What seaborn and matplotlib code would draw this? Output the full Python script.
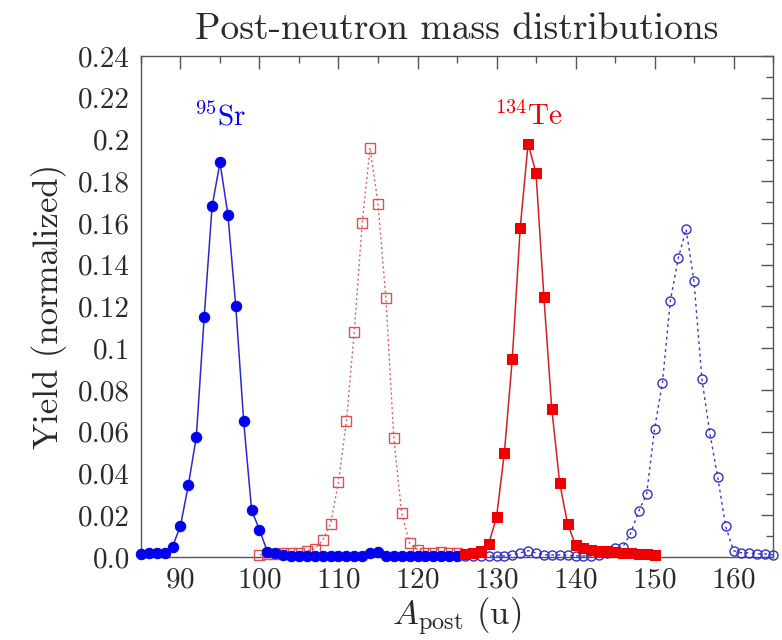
import numpy as np
import pandas as pd
import matplotlib
matplotlib.use("Agg")
import matplotlib.pyplot as plt
import seaborn as sns

# ---- data ----
sr_mass = list(range(85, 126))
sr_yield = [0.0015, 0.002, 0.002, 0.002, 0.005, 0.015, 0.0345, 0.0575, 0.115, 0.168,
            0.189, 0.164, 0.120, 0.065, 0.0225, 0.013, 0.0025, 0.002, 0.001, 0.0005,
            0.0005, 0.0005, 0.0003, 0.0003, 0.0005, 0.0005, 0.0003, 0.0003, 0.0005, 0.002,
            0.0025, 0.0005, 0.0003, 0.0003, 0.0003, 0.0003, 0.0003, 0.0003, 0.0003, 0.0003,
            0.0003]

xe_mass = list(range(126, 166))
xe_yield = [0.0005, 0.0005, 0.0005, 0.0005, 0.0005, 0.0005, 0.001, 0.002, 0.003, 0.002,
            0.001, 0.001, 0.001, 0.0008, 0.0005, 0.0005, 0.0005, 0.001, 0.002, 0.0043,
            0.0048, 0.0115, 0.022, 0.030, 0.0613, 0.0834, 0.1226, 0.143, 0.157, 0.132,
            0.0853, 0.0594, 0.0383, 0.0148, 0.003, 0.002, 0.002, 0.0015, 0.0015, 0.001]

te_mass = list(range(126, 151))
te_yield = [0.0015, 0.002, 0.003, 0.0062, 0.019, 0.050, 0.095, 0.1576, 0.198, 0.184,
            0.1245, 0.0709, 0.0354, 0.0158, 0.0057, 0.0043, 0.0035, 0.003, 0.003, 0.0025,
            0.002, 0.002, 0.0015, 0.0015, 0.001]

mo_mass = list(range(100, 126))
mo_yield = [0.001, 0.0015, 0.0015, 0.002, 0.002, 0.002, 0.003, 0.004, 0.008, 0.016,
            0.036, 0.065, 0.108, 0.160, 0.196, 0.169, 0.124, 0.057, 0.021, 0.0065,
            0.0035, 0.002, 0.002, 0.0025, 0.002, 0.002]

xticks = [90, 100, 110, 120, 130, 140, 150, 160]
yticks = [0.0, 0.02, 0.04, 0.06, 0.08, 0.1, 0.12, 0.14, 0.16, 0.18, 0.2, 0.22, 0.24]
ytick_labels = ["0.0", "0.02", "0.04", "0.06", "0.08", "0.1", "0.12", "0.14",
                "0.16", "0.18", "0.2", "0.22", "0.24"]

# ---- style ----
sns.set_theme(style="white")
plt.rcParams["font.family"] = ["cmr10", "DejaVu Serif"]
plt.rcParams["mathtext.fontset"] = "cm"
plt.rcParams["axes.formatter.use_mathtext"] = True

fig = plt.figure(figsize=(7.82, 6.4), dpi=100)
ax = fig.add_axes([0.1803, 0.1297, 0.8082, 0.7828])

GRAY = "#555555"
TXT = "#2a2a2a"

sns.lineplot(x=mo_mass, y=mo_yield, ax=ax, color="#e06060", linewidth=1.0,
             linestyle=(0, (1.5, 2.0)), marker="s", markersize=6.5,
             markerfacecolor="none", markeredgecolor="#e05050", markeredgewidth=1.0,
             clip_on=False, zorder=3)
sns.lineplot(x=xe_mass, y=xe_yield, ax=ax, color="#3a3ac0", linewidth=1.0,
             linestyle=(0, (2.0, 2.5)), marker="o", markersize=6.5,
             markerfacecolor="none", markeredgecolor="#3030c8", markeredgewidth=1.0,
             clip_on=False, zorder=3)
sns.lineplot(x=sr_mass, y=sr_yield, ax=ax, color="#2a2acc", linewidth=1.1,
             marker="o", markersize=7.5, markerfacecolor="#0000ee",
             markeredgecolor="#0000ee", clip_on=False, zorder=4)
sns.lineplot(x=te_mass, y=te_yield, ax=ax, color="#d02020", linewidth=1.1,
             marker="s", markersize=7, markerfacecolor="#ee0000",
             markeredgecolor="#ee0000", clip_on=False, zorder=4)

ax.set_xlim(85, 165)
ax.set_ylim(0, 0.24)
ax.set_xticks(xticks)
ax.set_xticks(np.arange(85, 166, 5), minor=True)
ax.set_yticks(yticks)
ax.set_yticklabels(ytick_labels)
ax.set_yticks(np.arange(0, 0.2401, 0.01), minor=True)
ax.tick_params(which="both", direction="in", top=True, right=True, colors=GRAY,
               labelcolor=TXT, labelsize=21)
ax.tick_params(which="major", length=9, width=1.0)
ax.tick_params(which="minor", length=5, width=1.0)
ax.tick_params(axis="x", pad=7)
ax.tick_params(axis="y", pad=8)
for s in ax.spines.values():
    s.set_color(GRAY)
    s.set_linewidth(1.0)

ax.set_xlabel(r"$A_{\mathrm{post}}$ (u)", fontsize=25, color=TXT, labelpad=2)
ax.set_ylabel("Yield (normalized)", fontsize=25, color=TXT, labelpad=8)
ax.set_title("Post-neutron mass distributions", fontsize=27, color=TXT, pad=12)

ax.text(95, 0.211, r"$^{95}$Sr", color="#0000ee", fontsize=21, ha="center", va="center")
ax.text(134, 0.211, r"$^{134}$Te", color="#ee0000", fontsize=21, ha="center", va="center")

fig.savefig("out.png", dpi=100)
